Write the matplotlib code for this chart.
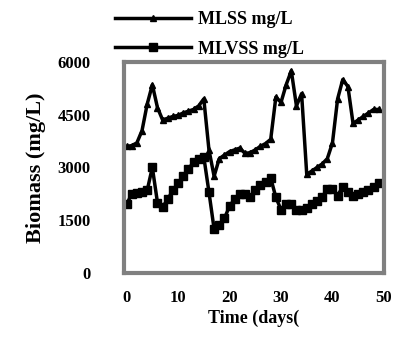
import matplotlib
matplotlib.use("Agg")
import matplotlib.pyplot as plt
import numpy as np

plt.rcParams['font.family'] = ['Liberation Serif', 'DejaVu Serif']
plt.rcParams['font.weight'] = 'bold'

days = list(range(50))
mlss = [3600, 3620, 3700, 4050, 4800, 5350, 4700, 4350, 4400, 4450,
        4480, 4550, 4600, 4650, 4750, 4950, 3500, 2750, 3250, 3350,
        3450, 3500, 3550, 3400, 3420, 3500, 3600, 3680, 3800, 5000,
        4850, 5350, 5750, 4750, 5100, 2800, 2900, 3000, 3100, 3250,
        3700, 4950, 5500, 5300, 4250, 4350, 4450, 4550, 4650, 4650]
mlvss = [1950, 2250, 2270, 2300, 2350, 3000, 2000, 1870, 2100, 2350,
         2550, 2750, 2950, 3150, 3250, 3300, 2300, 1250, 1350, 1550,
         1900, 2100, 2250, 2250, 2150, 2350, 2500, 2600, 2700, 2150,
         1800, 1950, 1950, 1800, 1780, 1850, 1950, 2050, 2150, 2400,
         2400, 2200, 2450, 2300, 2200, 2250, 2300, 2350, 2450, 2550]
yticks = [0, 1500, 3000, 4500, 6000]
xticks = [0, 10, 20, 30, 40, 50]

fig = plt.figure(figsize=(3.95, 3.54), dpi=100)
ax = fig.add_axes([0.314, 0.229, 0.658, 0.596])

ax.plot(days, mlss, color='black', lw=2.5, marker='^', ms=5, label='MLSS mg/L')
ax.plot(days, mlvss, color='black', lw=2.5, marker='s', ms=6, label='MLVSS mg/L')

ax.set_xlim(-0.5, 50)
ax.set_ylim(0, 6000)
ax.set_xticks(xticks)
ax.set_yticks(yticks)
ax.tick_params(length=0, labelsize=12)
ax.tick_params(axis='x', pad=12)
ax.tick_params(axis='y', pad=24)
for s in ax.spines.values():
    s.set_color('#808080')
    s.set_linewidth(3)

ax.set_xlabel('Time (days(', fontsize=13, fontweight='bold', labelpad=3)
ax.set_ylabel('Biomass (mg/L)', fontsize=16, fontweight='bold', labelpad=8)

h, l = ax.get_legend_handles_labels()
fig.legend(h, l, loc='upper left', bbox_to_anchor=(0.25, 1.015), frameon=False,
           handlelength=4.2, fontsize=13, labelspacing=0.7, handletextpad=0.4)

fig.savefig('out.png', dpi=100)
